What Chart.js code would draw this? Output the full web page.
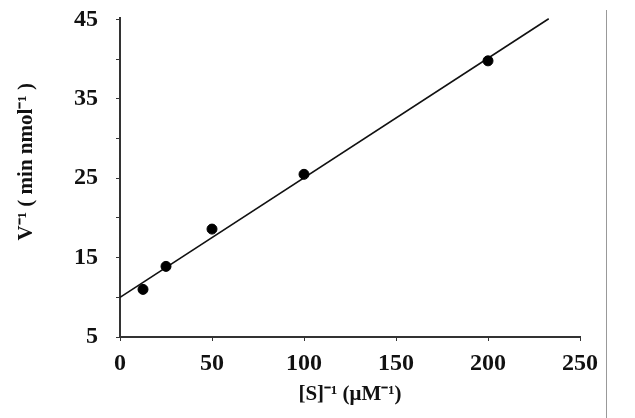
<!DOCTYPE html>
<html lang="en">
<head>
  <meta charset="UTF-8">
  <title>Lineweaver-Burk plot</title>
  <script src="https://cdn.jsdelivr.net/npm/chart.js"></script>
  <style>
    body {
      margin: 0;
      background-color: #fff;
    }
    #wrap {
      position: relative;
      width: 606px;
      height: 418px;
    }
    #edge {
      position: absolute;
      left: 606px;
      top: 10px;
      width: 1px;
      height: 408px;
      background-color: #999;
    }
  </style>
</head>
<body>
  <div id="wrap">
    <canvas id="chart" width="606" height="418"></canvas>
  </div>
  <div id="edge"></div>

  <script>
    // measured points, [S]^-1 vs V^-1
    const invS = [12.5, 25, 50, 100, 200];
    const invV = [11.0, 13.9, 18.6, 25.5, 39.8];

    const fitX = [0, 233];
    const fitY = [10.0, 45.1];

    const yTickValues = [5, 10, 15, 20, 25, 30, 35, 40, 45];
    const yTickLabels = [5, 15, 25, 35, 45];
    const xTickValues = [0, 50, 100, 150, 200, 250];

    const tickFont = { family: "'Liberation Serif', serif", size: 24, weight: "bold" };
    const titleFont = { family: "'Liberation Serif', serif", size: 21, weight: "bold" };

    const ctx = document.getElementById("chart").getContext("2d");
    new Chart(ctx, {
      type: "scatter",
      data: {
        datasets: [
          {
            label: "data",
            data: invS.map((x, i) => ({ x: x, y: invV[i] })),
            backgroundColor: "#000",
            borderColor: "#000",
            pointRadius: 5,
          },
          {
            label: "fit",
            data: fitX.map((x, i) => ({ x: x, y: fitY[i] })),
            showLine: true,
            borderColor: "#111",
            borderWidth: 1.6,
            pointRadius: 0,
            clip: false,
          },
        ],
      },
      options: {
        responsive: false,
        animation: false,
        layout: { padding: { top: 18, right: 23, left: 0, bottom: 0 } },
        plugins: {
          legend: { display: false },
          tooltip: { enabled: false },
        },
        scales: {
          x: {
            type: "linear",
            min: 0,
            max: 250,
            afterBuildTicks: (s) => { s.ticks = xTickValues.map((v) => ({ value: v })); },
            afterFit: (s) => { s.height = 81; },
            grid: { drawOnChartArea: false, tickLength: 4, color: "#333" },
            border: { color: "#333", width: 2 },
            ticks: { color: "#111", font: tickFont, padding: 8, maxRotation: 0 },
            title: { display: true, text: "[S]⁻¹ (μM⁻¹)", color: "#111", font: titleFont, padding: { top: 0, bottom: 11 } },
          },
          y: {
            type: "linear",
            min: 5,
            max: 45.2,
            afterBuildTicks: (s) => { s.ticks = yTickValues.map((v) => ({ value: v })); },
            afterFit: (s) => {
              s.width = 120;
              s.paddingTop = 0;
              s.paddingBottom = 0;
            },
            grid: { drawOnChartArea: false, tickLength: 4, color: "#333" },
            border: { color: "#333", width: 2 },
            ticks: {
              color: "#111",
              font: tickFont,
              padding: 18,
              callback: (v) => (yTickLabels.includes(v) ? v : ""),
            },
            title: { display: true, text: "      V⁻¹ ( min nmol⁻¹ )", color: "#111", font: titleFont, padding: { top: 14, bottom: 0 } },
          },
        },
      },
    });
  </script>
</body>
</html>
